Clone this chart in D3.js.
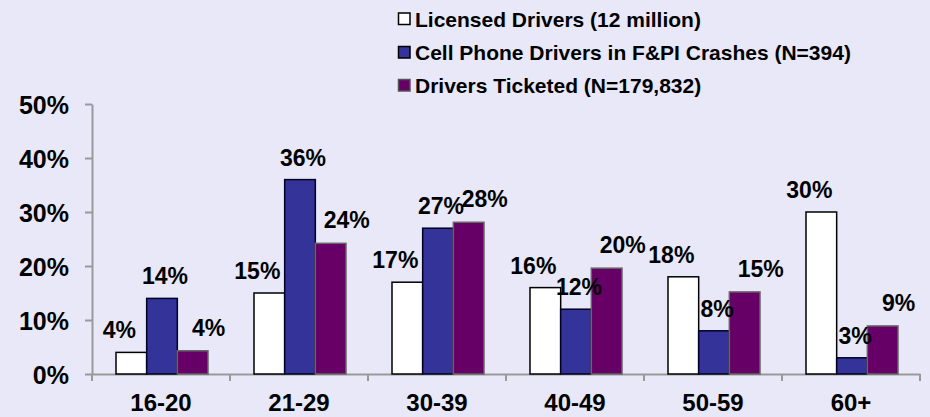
<!DOCTYPE html>
<html>
<head>
<meta charset="utf-8">
<script src="https://cdn.jsdelivr.net/npm/d3@7/dist/d3.min.js"></script>
<style>
  html, body { margin: 0; padding: 0; background: #E8E8F8; }
  svg { display: block; font-family: "Liberation Sans", Arial, sans-serif; font-weight: bold; }
</style>
</head>
<body>
<svg id="chart" width="930" height="417"></svg>
<script>
const categories = ["16-20", "21-29", "30-39", "40-49", "50-59", "60+"];
const seriesNames = ["Licensed Drivers (12 million)", "Cell Phone Drivers in F&PI Crashes (N=394)", "Drivers Ticketed (N=179,832)"];
const licensedDrivers = [4, 15, 17, 16, 18, 30];
const cellPhoneDrivers = [14, 36, 27, 12, 8, 3];
const driversTicketed = [4.3, 24.2, 28.1, 19.6, 15.2, 8.9];
const yTicks = [0, 10, 20, 30, 40, 50];

(function () {
const seriesValues = [licensedDrivers, cellPhoneDrivers, driversTicketed];
const fills = ["#FFFFFF", "#333399", "#660066"];
const strokes = ["#000000", "#000022", "#666666"];
const labelDx = [-12, 3, 16];
const labelDy = [-14, -14, -15];

const svg = d3.select("#chart");
svg.append("rect").attr("width", 930).attr("height", 417).attr("fill", "#E8E8F8");

const mLeft = 92, mRight = 920, mTop = 104, mBottom = 374;
const y = d3.scaleLinear().domain([0, 50]).range([mBottom, mTop]);
const x = d3.scaleBand().domain(categories).range([mLeft, mRight]).paddingInner(0).paddingOuter(0);
const x1 = d3.scaleBand().domain([0, 1, 2]).range([24, 24 + 92]).padding(0);

// Y axis
const yAxis = svg.append("g").attr("transform", `translate(${mLeft},0)`)
  .call(d3.axisLeft(y).tickValues(yTicks).tickSize(7).tickSizeOuter(0).tickFormat(d => d + "%"));
yAxis.select(".domain").attr("stroke", "#999999").attr("stroke-width", 2);
yAxis.selectAll(".tick line").attr("stroke", "#999999").attr("stroke-width", 2);
yAxis.selectAll(".tick text")
  .attr("x", -23).attr("dy", null).attr("y", 9)
  .attr("text-anchor", "end")
  .attr("font-size", 25).attr("font-weight", "bold")
  .attr("font-family", "Liberation Sans, Arial, sans-serif")
  .attr("fill", "#000");

// X axis
const xAxis = svg.append("g").attr("transform", `translate(0,${mBottom})`)
  .call(d3.axisBottom(x).tickSize(0).tickSizeOuter(0));
xAxis.select(".domain").attr("stroke", "#999999").attr("stroke-width", 2);
xAxis.selectAll(".tick text")
  .attr("y", 37).attr("dy", null)
  .attr("text-anchor", "middle")
  .attr("font-size", 24).attr("font-weight", "bold")
  .attr("font-family", "Liberation Sans, Arial, sans-serif")
  .attr("fill", "#000");
const boundaries = categories.map(c => x(c)).concat([x.range()[1]]);
xAxis.selectAll(".bound").data(boundaries).enter().append("line")
  .attr("x1", d => d).attr("x2", d => d).attr("y1", 0).attr("y2", 7)
  .attr("stroke", "#999999").attr("stroke-width", 2);

// Bars
const groups = svg.append("g").selectAll("g.grp").data(categories).enter().append("g")
  .attr("transform", d => `translate(${x(d)},0)`);

seriesValues.forEach((vals, s) => {
  groups.append("rect")
    .attr("x", x1(s))
    .attr("width", x1.bandwidth())
    .attr("y", (d, i) => y(vals[i]))
    .attr("height", (d, i) => y(0) - y(vals[i]))
    .attr("fill", fills[s])
    .attr("stroke", strokes[s])
    .attr("stroke-width", 1.5);
});

seriesValues.forEach((vals, s) => {
  groups.append("text")
    .attr("x", x1(s) + x1.bandwidth() / 2 + labelDx[s])
    .attr("y", (d, i) => y(vals[i]) + labelDy[s])
    .attr("text-anchor", "middle")
    .attr("font-size", 23)
    .attr("fill", "#000")
    .text((d, i) => Math.round(vals[i]) + "%");
});

// Legend
const legend = svg.append("g");
const legendY = [19, 52.5, 85.5];
seriesNames.forEach((name, s) => {
  legend.append("rect")
    .attr("x", 398.5).attr("y", legendY[s] - 6).attr("width", 11.5).attr("height", 11.5)
    .attr("fill", fills[s]).attr("stroke", s === 2 ? "#555555" : "#000").attr("stroke-width", 1.5);
  legend.append("text")
    .attr("x", 415).attr("y", legendY[s] + 7.5)
    .attr("font-size", 21)
    .attr("fill", "#000")
    .text(name);
});
})();
</script>
</body>
</html>
